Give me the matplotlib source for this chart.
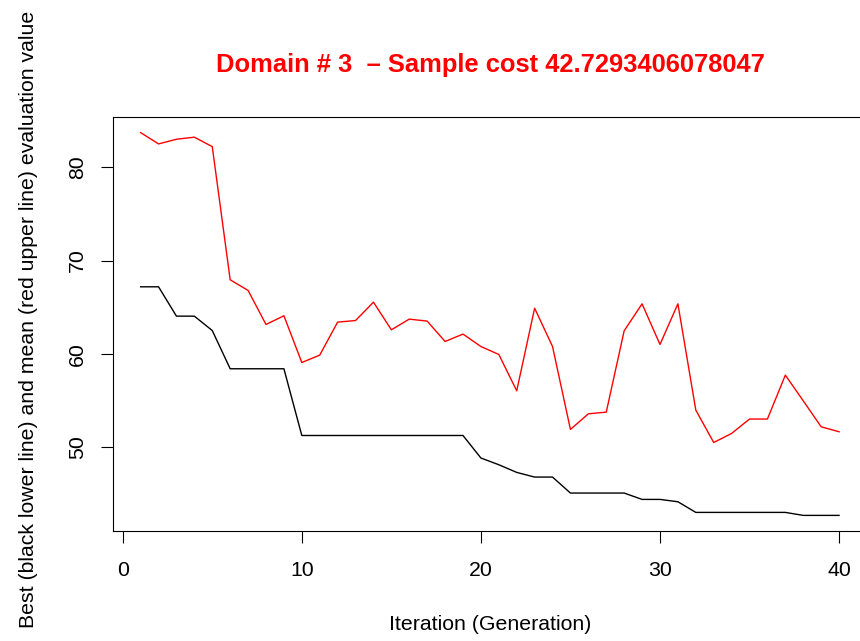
import matplotlib.pyplot as plt

plt.rcParams['font.family'] = ['Liberation Sans', 'DejaVu Sans']

# iterations (generations)
generation = list(range(1, 41))

# mean evaluation value (red upper line)
mean_val = [83.69, 82.48, 82.98, 83.20, 82.19, 67.94, 66.80, 63.16, 64.09, 59.09,
            59.88, 63.41, 63.58, 65.55, 62.59, 63.73, 63.52, 61.34, 62.13, 60.80,
            59.95, 56.06, 64.90, 60.80, 51.93, 53.60, 53.78, 62.48, 65.37, 61.02,
            65.37, 54.00, 50.53, 51.50, 53.04, 53.04, 57.74, 54.99, 52.21, 51.68]

# best evaluation value (black lower line)
best_val = [67.19, 67.19, 64.05, 64.05, 62.51, 58.42, 58.42, 58.42, 58.42, 51.28,
            51.28, 51.28, 51.28, 51.28, 51.28, 51.28, 51.28, 51.28, 51.28, 48.87,
            48.15, 47.33, 46.83, 46.83, 45.12, 45.12, 45.12, 45.12, 44.44, 44.44,
            44.19, 43.05, 43.05, 43.05, 43.05, 43.05, 43.05, 42.73, 42.73, 42.73]

fs = 15.3  # base font size

fig = plt.figure(figsize=(8.6, 6.41), dpi=100)
ax = fig.add_axes([112.7 / 860, 1 - 530.7 / 641, (867 - 112.7) / 860, (530.7 - 117.3) / 641])

ax.plot(generation, best_val, color='black', lw=1.0)
ax.plot(generation, mean_val, color='red', lw=1.0)

# R style 4% extension of data range
lo = min(best_val + mean_val)
hi = max(best_val + mean_val)
ext = (hi - lo) * 0.04
ax.set_ylim(lo - ext, hi + ext)
xe = (40 - 1) * 0.04
ax.set_xlim(1 - xe, 40 + xe)

ax.set_xticks([0, 10, 20, 30, 40])
ax.set_yticks([50, 60, 70, 80])
ax.tick_params(axis='both', direction='out', length=8.6, width=0.8, labelsize=fs)
ax.tick_params(axis='x', pad=13.5)
ax.tick_params(axis='y', pad=10)
for lab in ax.get_yticklabels():
    lab.set_rotation(90)
    lab.set_va('center')

for sp in ax.spines.values():
    sp.set_linewidth(0.8)

fig.text(490 / 860, 1 - 65 / 641, 'Domain # 3  \u2013 Sample cost 42.7293406078047',
         color='red', fontsize=fs * 1.2, fontweight='bold', ha='center', va='center')
fig.text(490 / 860, 1 - 625 / 641, 'Iteration (Generation)', fontsize=fs,
         ha='center', va='center')
fig.text(29 / 860, 1 - 319 / 641, 'Best (black lower line) and mean (red upper line) evaluation value',
         fontsize=fs, rotation=90, ha='center', va='center')

fig.savefig('out.png', dpi=100)
